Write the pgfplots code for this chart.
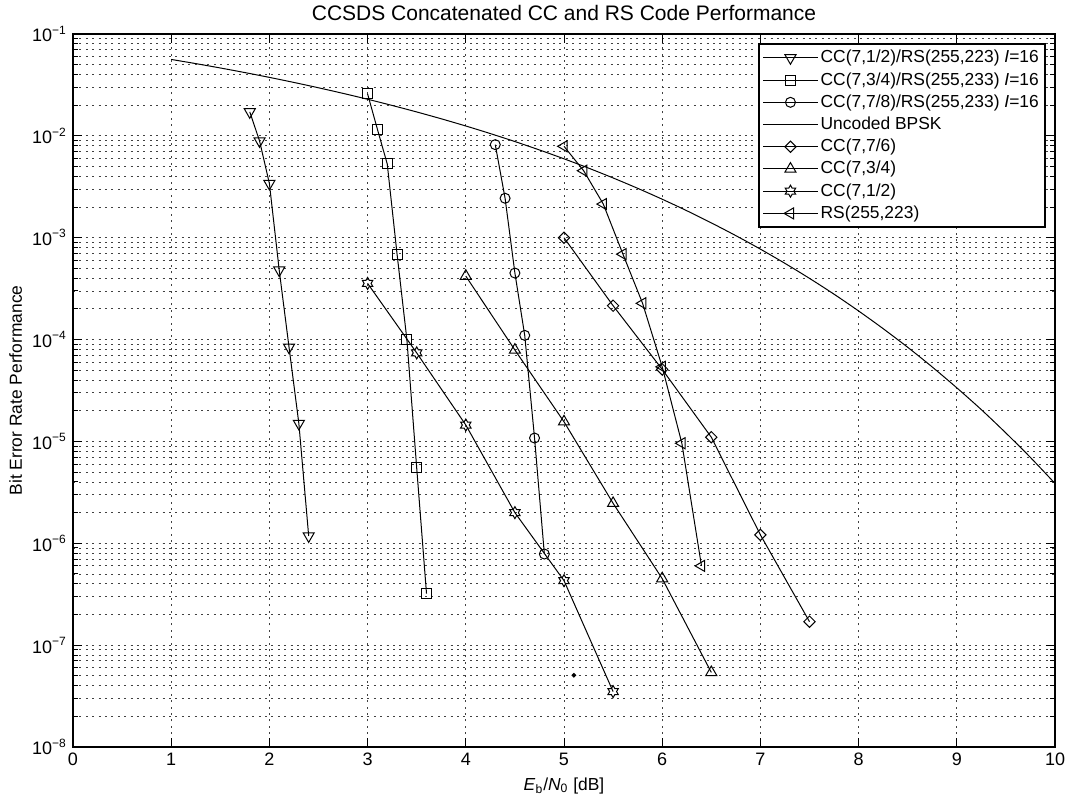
\documentclass[border=0pt]{standalone}
\usepackage{fontspec}
\setmainfont{Liberation Sans}
\usepackage{pgfplots}
\pgfplotsset{compat=1.18}
\usetikzlibrary{plotmarks}

\pgfdeclareplotmark{hexagram}{%
 \pgfpathmoveto{\pgfpointpolar{90}{\pgfplotmarksize}}%
 \pgfpathlineto{\pgfpointpolar{120}{0.577\pgfplotmarksize}}%
 \pgfpathlineto{\pgfpointpolar{150}{\pgfplotmarksize}}%
 \pgfpathlineto{\pgfpointpolar{180}{0.577\pgfplotmarksize}}%
 \pgfpathlineto{\pgfpointpolar{210}{\pgfplotmarksize}}%
 \pgfpathlineto{\pgfpointpolar{240}{0.577\pgfplotmarksize}}%
 \pgfpathlineto{\pgfpointpolar{270}{\pgfplotmarksize}}%
 \pgfpathlineto{\pgfpointpolar{300}{0.577\pgfplotmarksize}}%
 \pgfpathlineto{\pgfpointpolar{330}{\pgfplotmarksize}}%
 \pgfpathlineto{\pgfpointpolar{0}{0.577\pgfplotmarksize}}%
 \pgfpathlineto{\pgfpointpolar{30}{\pgfplotmarksize}}%
 \pgfpathlineto{\pgfpointpolar{60}{0.577\pgfplotmarksize}}%
 \pgfpathclose
 \pgfusepathqstroke
}

\begin{document}
\fontsize{8.7pt}{10pt}\selectfont
\begin{tikzpicture}
\begin{axis}[
 scale only axis, width=491pt, height=356.5pt,
 ymode=log, xmin=0, xmax=10, ymin=1e-8, ymax=1e-1,
 xtick={0,1,...,10},
 ytick={1e-8,1e-7,1e-6,1e-5,1e-4,1e-3,1e-2,1e-1},
 yticklabels={10\textsuperscript{−8},10\textsuperscript{−7},10\textsuperscript{−6},10\textsuperscript{−5},10\textsuperscript{−4},10\textsuperscript{−3},10\textsuperscript{−2},10\textsuperscript{−1}},
 /pgf/number format/assume math mode=true,
 tick align=inside, tick pos=both,
 major tick length=4.5pt, minor tick length=2.5pt,
 every tick/.style={black, line width=0.5pt},
 axis line style={black, line width=0.6pt},
 xmajorgrids, ymajorgrids, yminorgrids,
 major grid style={black!75, line width=0.45pt, dash pattern=on 1pt off 2.2pt},
 minor grid style={black!75, line width=0.45pt, dash pattern=on 1pt off 2.2pt},
 ticklabel style={font=\fontsize{9pt}{10pt}\selectfont},
 title={CCSDS Concatenated CC and RS Code Performance},
 title style={font=\fontsize{10.5pt}{12pt}\selectfont, yshift=-2.5pt},
 xlabel={\textit{E}\textsubscript{b}/\textit{N}\textsubscript{0} [dB]},
 ylabel={Bit Error Rate Performance},
 label style={font=\fontsize{8.7pt}{10pt}\selectfont},
 ylabel style={yshift=-1pt},
 every axis plot/.append style={black, line width=0.5pt, mark options={solid, line width=0.5pt}},
 legend style={at={(0.991,0.987)}, anchor=north east, draw=black, line width=1pt,
   font=\fontsize{8.7pt}{10pt}\selectfont, inner xsep=2pt, inner ysep=1.8pt,
   row sep=1.1pt, nodes={inner sep=1.2pt}},
 legend cell align=left,
 legend image code/.code={\draw[mark repeat=2,mark phase=2,line width=0.5pt] plot coordinates {(0cm,0cm) (0.48cm,0cm) (0.96cm,0cm)};},
]
\addplot[mark=triangle, mark size=3.2pt, mark options={rotate=180}] coordinates {
 (1.8,1.72e-2) (1.9,8.9e-3) (2.0,3.4e-3) (2.1,4.8e-4) (2.2,8.4e-5) (2.3,1.5e-5) (2.4,1.18e-6)};
\addlegendentry{CC(7,1/2)/RS(255,223) \textit{I}=16}
\addplot[mark=square, mark size=2.5pt] coordinates {
 (3.0,2.58e-2) (3.1,1.16e-2) (3.2,5.3e-3) (3.3,6.9e-4) (3.4,1.0e-4) (3.5,5.5e-6) (3.6,3.2e-7)};
\addlegendentry{CC(7,3/4)/RS(255,233) \textit{I}=16}
\addplot[mark=o, mark size=2.5pt] coordinates {
 (4.3,8.2e-3) (4.4,2.44e-3) (4.5,4.5e-4) (4.6,1.1e-4) (4.7,1.08e-5) (4.8,7.85e-7)};
\addlegendentry{CC(7,7/8)/RS(255,233) \textit{I}=16}
\addplot[no markers, smooth] coordinates {
 (1.0,0.05628) (1.25,0.05122) (1.5,0.04640) (1.75,0.04182) (2.0,0.03751) (2.25,0.03345)
 (2.5,0.02965) (2.75,0.02613) (3.0,0.02288) (3.25,0.01989) (3.5,0.01717) (3.75,0.01471)
 (4.0,0.01250) (4.25,0.01053) (4.5,0.008793) (4.75,0.007273) (5.0,0.005954) (5.25,0.004823)
 (5.5,0.003862) (5.75,0.003056) (6.0,0.002388) (6.25,0.001842) (6.5,0.001399) (6.75,0.001048)
 (7.0,7.727e-4) (7.25,5.60e-4) (7.5,3.99e-4) (7.75,2.79e-4) (8.0,1.909e-4) (8.25,1.28e-4)
 (8.5,8.40e-5) (8.75,5.38e-5) (9.0,3.36e-5) (9.25,2.05e-5) (9.5,1.21e-5) (9.75,6.96e-6)
 (10.0,3.87e-6)};
\addlegendentry{Uncoded BPSK}
\addplot[mark=square, mark size=2pt, mark options={rotate=45}] coordinates {
 (5.0,1.0e-3) (5.5,2.15e-4) (6.0,5.1e-5) (6.5,1.1e-5) (7.0,1.21e-6) (7.5,1.7e-7)};
\addlegendentry{CC(7,7/6)}
\addplot[mark=triangle, mark size=3.2pt] coordinates {
 (4.0,4.2e-4) (4.5,7.9e-5) (5.0,1.56e-5) (5.5,2.47e-6) (6.0,4.5e-7) (6.5,5.4e-8)};
\addlegendentry{CC(7,3/4)}
\addplot[mark=hexagram, mark size=3pt] coordinates {
 (3.0,3.56e-4) (3.5,7.4e-5) (4.0,1.45e-5) (4.5,2.0e-6) (5.0,4.3e-7) (5.5,3.5e-8)};
\addlegendentry{CC(7,1/2)}
\addplot[mark=triangle, mark size=3.2pt, mark options={rotate=90}] coordinates {
 (5.0,7.9e-3) (5.2,4.55e-3) (5.4,2.14e-3) (5.6,6.9e-4) (5.8,2.27e-4) (6.0,5.4e-5) (6.2,9.6e-6) (6.4,6.0e-7)};
\addlegendentry{RS(255,223)}
\addplot[only marks, mark=*, mark size=0.9pt, forget plot] coordinates {(5.1,5.06e-8)};
\end{axis}
\pgfresetboundingbox
\useasboundingbox ([shift={(-36.5pt,-28pt)}]current axis.south west) rectangle ([shift={(7.5pt,17pt)}]current axis.north east);
\end{tikzpicture}
\end{document}
